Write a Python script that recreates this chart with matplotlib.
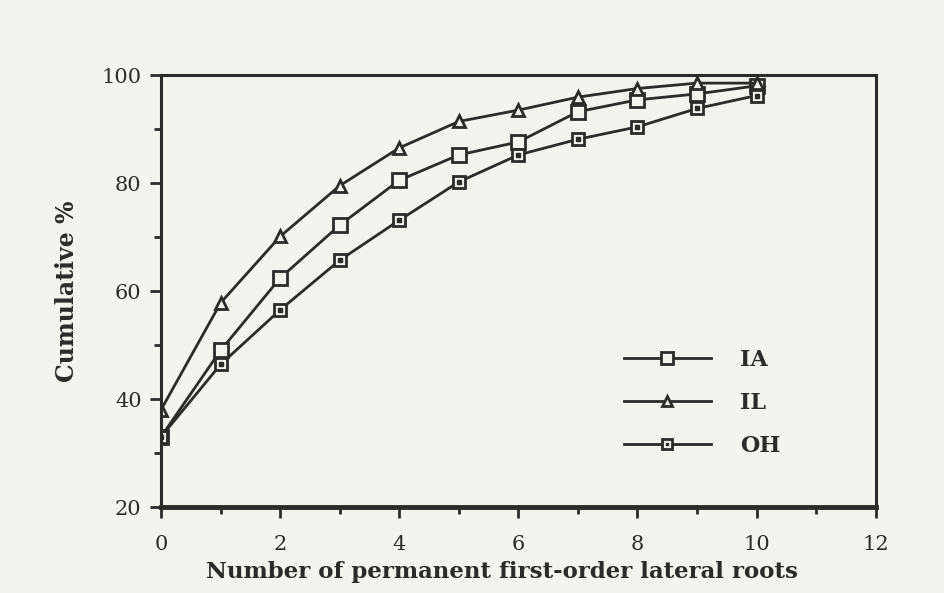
import matplotlib.pyplot as plt
from matplotlib.legend_handler import HandlerTuple

# cumulative % of trees by number of permanent first-order lateral roots
roots = [0, 1, 2, 3, 4, 5, 6, 7, 8, 9, 10]
ia = [33.0, 49.0, 62.4, 72.2, 80.5, 85.2, 87.6, 93.2, 95.4, 96.5, 98.0]
il = [38.0, 57.8, 70.1, 79.5, 86.5, 91.4, 93.5, 95.9, 97.5, 98.5, 98.5]
oh = [33.0, 46.4, 56.5, 65.7, 73.1, 80.2, 85.2, 88.1, 90.4, 93.8, 96.2]

plt.rcParams['font.family'] = ['DejaVu Serif']
bg = '#f3f3ef'
ink = '#2b2b2b'

fig = plt.figure(figsize=(9.44, 5.93), dpi=100, facecolor=bg)
ax = fig.add_axes([0.1706, 0.145, 0.757, 0.7285], facecolor=bg)

l_ia, = ax.plot(roots, ia, color=ink, lw=2, marker='s', ms=10, mfc=bg, mec=ink, mew=2)
l_il, = ax.plot(roots, il, color=ink, lw=2, marker='^', ms=9, mfc=bg, mec=ink, mew=2)
l_oh, = ax.plot(roots, oh, color=ink, lw=2, marker='s', ms=8, mfc=bg, mec=ink, mew=2)
d_oh, = ax.plot(roots, oh, ls='none', marker='s', ms=2.5, mfc=ink, mec=ink)

ax.set_xlim(0, 12)
ax.set_ylim(20, 100)
ax.set_xticks(range(0, 13, 2))
ax.set_xticks(range(0, 13), minor=True)
ax.set_yticks(range(20, 101, 20))
ax.set_yticks(range(20, 101, 10), minor=True)
ax.tick_params(which='both', direction='out', color=ink, width=2, labelsize=15, labelcolor=ink)
ax.tick_params(which='major', length=8)
ax.tick_params(which='minor', length=5)
ax.tick_params(axis='x', pad=12)
ax.tick_params(axis='y', pad=6)

for side in ['left', 'right', 'top']:
    ax.spines[side].set_linewidth(2.2)
    ax.spines[side].set_color(ink)
ax.spines['bottom'].set_linewidth(3.5)
ax.spines['bottom'].set_color(ink)

ax.set_xlabel('Number of permanent first-order lateral roots', fontsize=16.5, fontweight='bold', color=ink)
ax.xaxis.set_label_coords(0.477, -0.125)
ax.set_ylabel('Cumulative %', fontsize=17, fontweight='bold', color=ink, labelpad=16)

leg = ax.legend([l_ia, l_il, (l_oh, d_oh)], ['IA', 'IL', 'OH'],
                handler_map={tuple: HandlerTuple(ndivide=1, pad=0)},
                loc='lower left', bbox_to_anchor=(0.62, 0.07), frameon=False,
                handlelength=3.9, labelspacing=0.95, handletextpad=1.3, markerscale=0.85,
                prop={'size': 16, 'weight': 'bold'})
for t in leg.get_texts():
    t.set_color(ink)

plt.savefig('out.png', dpi=100, facecolor=bg)
